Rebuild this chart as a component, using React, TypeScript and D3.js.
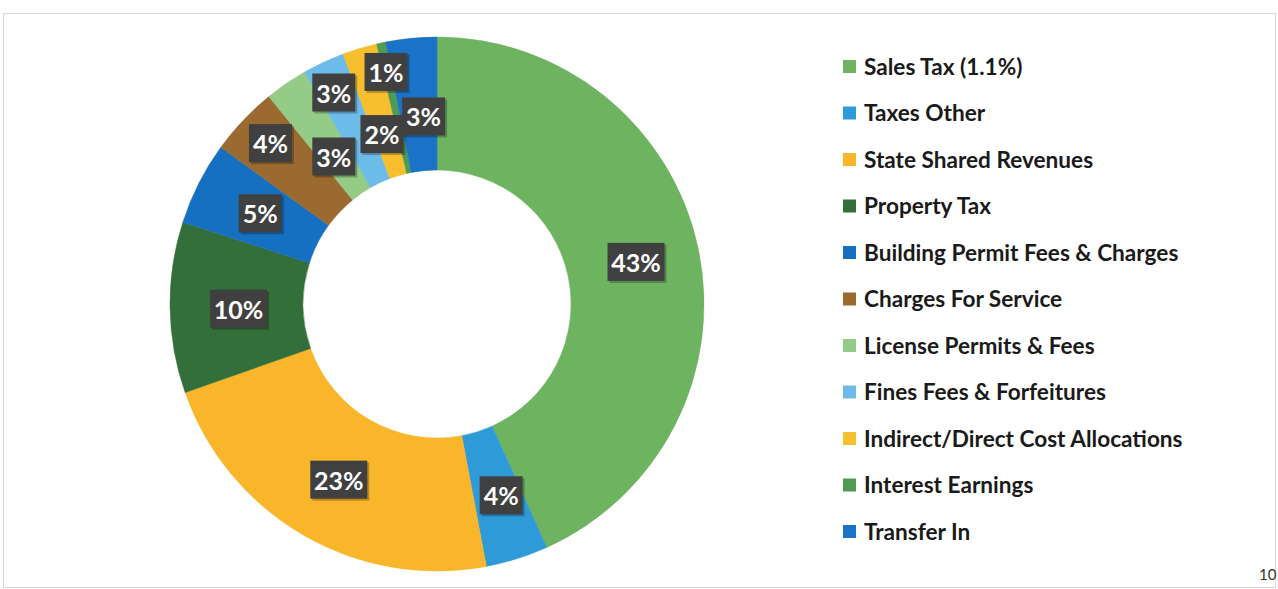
import React from "react";
import * as d3 from "d3";

const categories = [
  "Sales Tax (1.1%)",
  "Taxes Other",
  "State Shared Revenues",
  "Property Tax",
  "Building Permit Fees & Charges",
  "Charges For Service",
  "License Permits & Fees",
  "Fines Fees & Forfeitures",
  "Indirect/Direct Cost Allocations",
  "Interest Earnings",
  "Transfer In",
];
const values = [43.5, 3.8, 22.7, 10.4, 5.05, 4.2, 2.6, 2.55, 2.1, 0.55, 3.1];
const colors = [
  "#6DB360",
  "#2F9AD8",
  "#F9B62A",
  "#336F3A",
  "#1570C2",
  "#9A6A30",
  "#93CB87",
  "#6DBBE8",
  "#F7BE2E",
  "#4F9A55",
  "#1A73C6",
];
// manual label nudges (px) from the slice centroid, like hand-placed labels
const labelNudges: [number, number][] = [
  [3, 0],
  [4, 0],
  [2, 2],
  [2, 2],
  [2, 0],
  [-21, -23],
  [10, 18],
  [-18, -30],
  [3, 22],
  [-9, -36],
  [6, 12],
];

const W = 1278;
const H = 589;
const cx = 437;
const cy = 304;
const outerR = 267;
const innerR = 134;

export default function App() {
  const total = d3.sum(values);
  const pie = d3
    .pie<number>()
    .sort(null)
    .value((d) => d)
    .startAngle(0)
    .endAngle(2 * Math.PI);
  const arcs = pie(values);
  const arcGen = d3.arc<d3.PieArcDatum<number>>().innerRadius(innerR).outerRadius(outerR);
  const legendY = d3.scalePoint<number>().domain(d3.range(categories.length)).range([66, 531]);
  const font = "Lato, 'Open Sans', 'Liberation Sans', sans-serif";

  return (
    <svg
      width={W}
      height={H}
      style={{ position: "absolute", left: 0, top: 0, background: "#fff" }}
    >
      <rect x={3.5} y={13.5} width={1272} height={574} fill="none" stroke="#d6d6d6" strokeWidth={1} />
      <g transform={`translate(${cx},${cy})`}>
        {arcs.map((a, i) => (
          <path key={i} d={arcGen(a) || ""} fill={colors[i]} stroke={colors[i]} strokeWidth={0.5} />
        ))}
        {arcs.map((a, i) => {
          const [x, y] = arcGen.centroid(a);
          const lx = x + labelNudges[i][0];
          const ly = y + labelNudges[i][1];
          const txt = `${Math.round((values[i] / total) * 100)}%`;
          const bw = 15 + txt.length * 14;
          const bh = 38;
          return (
            <g key={"l" + i} transform={`translate(${lx},${ly})`}>
              <rect x={-bw / 2 + 2} y={-bh / 2 + 2} width={bw} height={bh} fill="#000" opacity={0.25} />
              <rect x={-bw / 2} y={-bh / 2} width={bw} height={bh} fill="#404040" />
              <text
                textAnchor="middle"
                dominantBaseline="central"
                fill="#fff"
                fontFamily={font}
                fontWeight="bold"
                fontSize={25}
              >
                {txt}
              </text>
            </g>
          );
        })}
      </g>
      <g>
        {categories.map((c, i) => (
          <g key={c} transform={`translate(843,${legendY(i)})`}>
            <rect x={0} y={-6} width={13} height={13} fill={colors[i]} />
            <text
              x={21}
              y={0}
              dominantBaseline="central"
              fontFamily={font}
              fontWeight="bold"
              fontSize={22.6}
              fill="#1a1a1a"
            >
              {c}
            </text>
          </g>
        ))}
      </g>
      <text x={1259} y={580} fontFamily={font} fontSize={15} fill="#333">
        10
      </text>
    </svg>
  );
}
